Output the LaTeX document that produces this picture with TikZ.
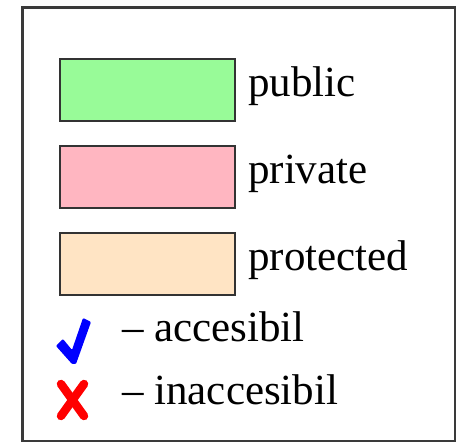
\documentclass[tikz,border=0pt]{standalone}
\usepackage{fontspec}
\setmainfont{Liberation Serif}
\definecolor{pubfill}{HTML}{98FB98}
\definecolor{privfill}{HTML}{FFB6C1}
\definecolor{protfill}{HTML}{FFE4C4}
\definecolor{edge}{HTML}{333333}
\definecolor{frame}{HTML}{3A3A3A}
\definecolor{okblue}{HTML}{0000FF}
\definecolor{nored}{HTML}{FF0000}
\begin{document}
\begin{tikzpicture}[x=1pt,y=-1pt,
  swatch/.style={draw=edge,line width=2pt,minimum width=175pt,minimum height=62pt,inner sep=0pt,anchor=north west},
  label/.style={anchor=base west,inner sep=0pt,font=\fontsize{43}{51}\selectfont},
  marker/.style={line width=8.5pt,line cap=round,line join=round}]
  \useasboundingbox (0,0) rectangle (456,443);
  % legend frame
  \draw[frame,line width=2.2pt] (22.5,7.5) rectangle (455,441);
  % access-level swatches
  \node[swatch,fill=pubfill]  (pub)  at (59,58)  {};
  \node[swatch,fill=privfill] (priv) at (59,145) {};
  \node[swatch,fill=protfill] (prot) at (59,232) {};
  \node[label] (tpub)  at (248,97)  {public};
  \node[label] (tpriv) at (248,184) {private};
  \node[label] (tprot) at (248,271) {protected};
  % accessibility markers: a check mark and a cross
  \fill[okblue,rounded corners=1pt] (56,346) -- (63,339) -- (72,350) -- (83,318)
    -- (91,322) -- (76,364) -- (72,364) -- cycle;
  \draw[marker,nored] (61,384) -- (84,416);
  \draw[marker,nored] (84,384) -- (61,416);
  \node[label] (tacc) at (122,342) {– accesibil};
  \node[label] (tinacc) at (122,405) {– inaccesibil};
\end{tikzpicture}
\end{document}
